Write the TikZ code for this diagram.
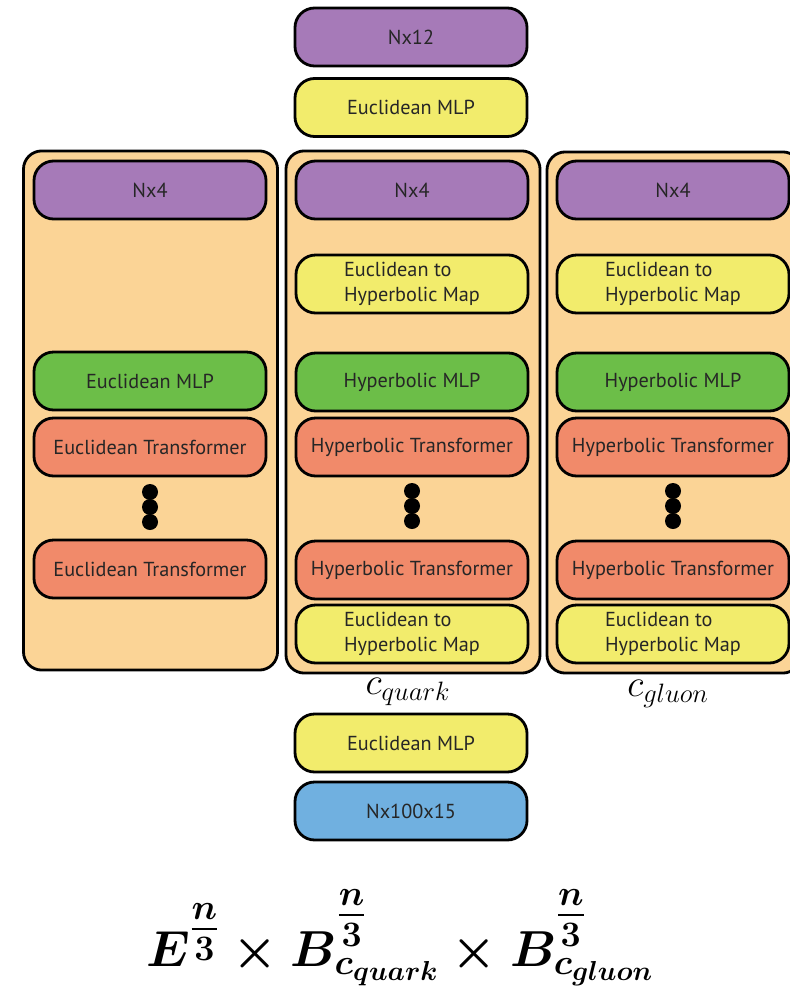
\RequirePackage{fix-cm}
\documentclass[tikz,border=0pt]{standalone}
\usepackage{amsmath,amssymb}
\usepackage{xcolor}
\usepackage{fontspec}
\newfontfamily\boxfont{PT Sans}
\usetikzlibrary{shapes,positioning,calc}

\definecolor{nxpurple}{RGB}{166,122,184}
\definecolor{mapyellow}{RGB}{242,236,108}
\definecolor{mlpgreen}{RGB}{108,190,72}
\definecolor{transred}{RGB}{241,138,106}
\definecolor{panelorange}{RGB}{251,212,150}
\definecolor{outblue}{RGB}{112,176,224}

\DeclareMathSizes{36}{36}{25.5}{19.5}
\newcommand{\thirdexp}{\raisebox{0.4em}{\boldmath$\tfrac{n}{3}$}}
\newcommand{\curvsub}[1]{\raisebox{0.15em}{\boldmath$\scriptstyle c_{#1}$}}
\newcommand{\prodmanifold}{\ensuremath{\boldsymbol{E^{\tfrac{n}{3}}\times B^{\thirdexp}_{\curvsub{quark}}\times B^{\thirdexp}_{\curvsub{gluon}}}}}

\begin{document}
\begin{tikzpicture}[x=0.025cm, y=-0.025cm,
    block/.style={draw, line width=2pt, rounded corners=14pt, minimum width=5.8cm, minimum height=1.45cm, align=left, text=black!85, font=\boxfont\fontsize{14.4}{18}\selectfont},
    panel/.style={draw, line width=2pt, rounded corners=13pt, fill=panelorange, minimum width=6.35cm},
    dot/.style={circle, fill=black, inner sep=0pt, minimum size=0.4cm}
]
    \useasboundingbox (0,0) rectangle (789,986);

    % input / output stack
    \node [block, fill=nxpurple] (inp) at (411,37) {Nx12};
    \node [block, fill=mapyellow] (encmlp) at (411,107.5) {Euclidean MLP};

    % the three branches
    \node [panel, minimum height=12.975cm] (panelE) at (150.5,410.5) {};
    \node [panel, minimum height=13.05cm] (panelQ) at (413,412) {};
    \node [panel, minimum height=13.025cm] (panelG) at (674,412.5) {};

    % Euclidean branch
    \node [block, fill=nxpurple] (eIn) at (150,190) {Nx4};
    \node [block, fill=mlpgreen] (eMlp) at (150,381) {Euclidean MLP};
    \node [block, fill=transred] (eTrA) at (150,447) {Euclidean Transformer};
    \node [dot] (eD1) at (150,492) {};
    \node [dot] (eD2) at (150,507) {};
    \node [dot] (eD3) at (150,522) {};
    \node [block, fill=transred] (eTrB) at (150,569) {Euclidean Transformer};

    % quark and gluon branches
    \foreach \br/\cx in {q/412, g/673} {
        \node [block, fill=nxpurple] (\br In) at (\cx,190) {Nx4};
        \node [block, fill=mapyellow] (\br MapA) at (\cx,284) {Euclidean to\\Hyperbolic Map};
        \node [block, fill=mlpgreen] (\br Mlp) at (\cx,382) {Hyperbolic MLP};
        \node [block, fill=transred] (\br TrA) at (\cx,447) {Hyperbolic Transformer};
        \node [dot] (\br D1) at (\cx,491) {};
        \node [dot] (\br D2) at (\cx,506) {};
        \node [dot] (\br D3) at (\cx,521) {};
        \node [block, fill=transred] (\br TrB) at (\cx,570) {Hyperbolic Transformer};
        \node [block, fill=mapyellow] (\br MapB) at (\cx,634) {Euclidean to\\Hyperbolic Map};
    }

    \node [font=\fontsize{27}{32}\selectfont] (cq) at (408,692) {$c_{quark}$};
    \node [font=\fontsize{27}{32}\selectfont] (cg) at (668,694) {$c_{gluon}$};

    \node [block, fill=mapyellow] (decmlp) at (411,743) {Euclidean MLP};
    \node [block, fill=outblue] (out) at (411,811) {Nx100x15};

    % product manifold
    \node [font=\fontsize{36}{42}\selectfont, anchor=base, inner sep=0pt] (manifold) at (400,966) {\prodmanifold};
\end{tikzpicture}
\end{document}
